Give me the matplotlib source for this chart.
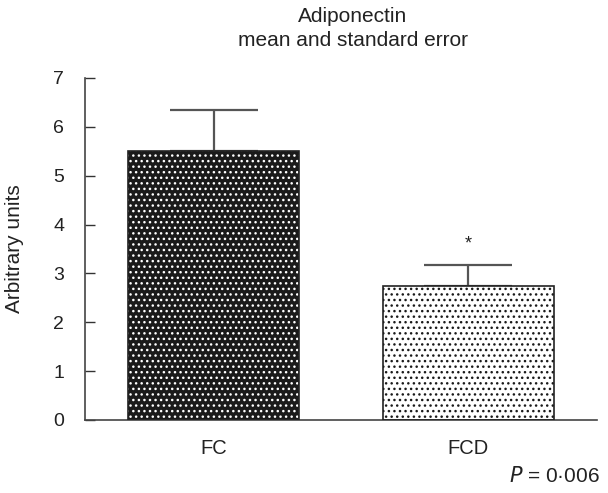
import matplotlib
matplotlib.use("Agg")
import matplotlib.pyplot as plt

plt.rcParams['font.family'] = ['Liberation Sans', 'DejaVu Sans']

categories = ["FC", "FCD"]
means = [5.5, 2.75]
sems = [0.85, 0.43]
star_value = 3.6
yticks = [0, 1, 2, 3, 4, 5, 6, 7]

fig = plt.figure(figsize=(6.08, 4.93), dpi=100)
ax = fig.add_axes([85/608, 1-420/493, 512/608, 342/493])

x = list(range(len(categories)))
face = ["#1a1a1a", "white"]
hatchc = ["white", "#1a1a1a"]
for i in x:
    ax.bar(i, means[i], width=0.67, color=face[i], edgecolor=hatchc[i],
           hatch="...", linewidth=0, zorder=2)
    ax.bar(i, means[i], width=0.67, fill=False, edgecolor="#222222",
           linewidth=1.2, zorder=3)
    ax.errorbar(i, means[i], yerr=[[0], [sems[i]]], fmt="none",
                ecolor="#555555", elinewidth=1.6, capsize=32, capthick=1.6, zorder=1)

ax.text(1, star_value, "*", ha="center", va="center", fontsize=13, color="#222222")

ax.set_xlim(-0.504, 1.504)
ax.set_ylim(0, 7)
ax.set_yticks(yticks)
ax.set_xticks(x)
ax.set_xticklabels(categories, fontsize=14.5)
ax.tick_params(axis="y", direction="in", length=7.5, width=1, colors="#333333",
               labelsize=14, pad=15, labelcolor="#222222")
ax.tick_params(axis="x", length=0, pad=14, labelcolor="#222222")
for s in ["top", "right"]:
    ax.spines[s].set_visible(False)
for s in ["left", "bottom"]:
    ax.spines[s].set_color("#444444")
    ax.spines[s].set_linewidth(1.2)

ax.set_ylabel("Arbitrary units", fontsize=15, color="#222222")
ax.yaxis.set_label_coords(-(85-24)/512, 0.5)

fig.text(353/608, 1-17/493, "Adiponectin", ha="center", va="center", fontsize=15, color="#222222")
fig.text(353/608, 1-40/493, "mean and standard error", ha="center", va="center", fontsize=15, color="#222222")
fig.text(600/608, 1-476/493, r"$\it{P}$" + " = 0\u00b7006", ha="right", va="center", fontsize=15, color="#222222")

fig.savefig("out.png", dpi=100)
